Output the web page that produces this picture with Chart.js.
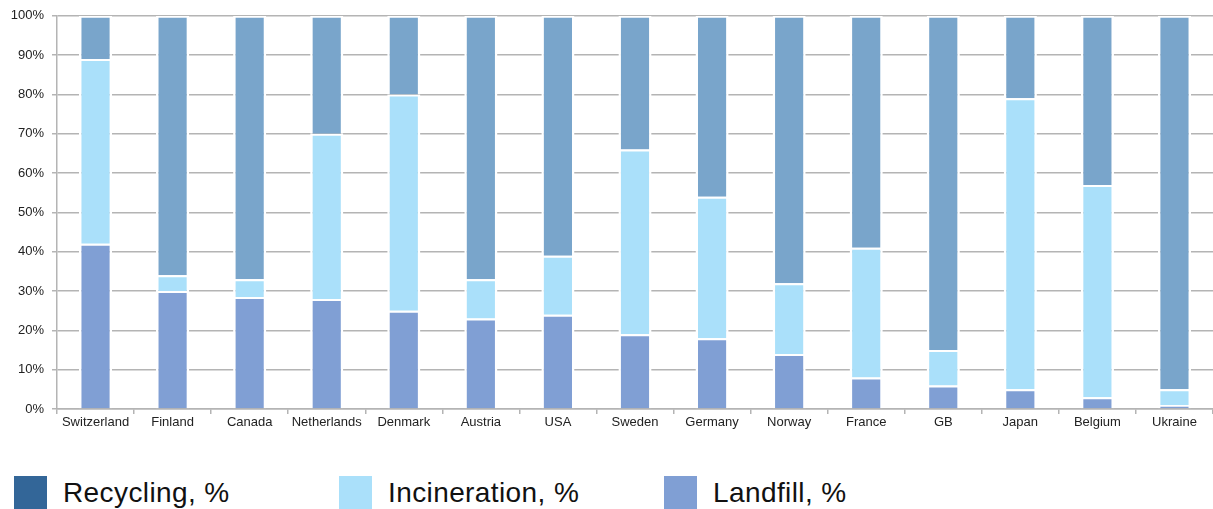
<!DOCTYPE html>
<html>
<head>
<meta charset="utf-8">
<script src="https://cdn.jsdelivr.net/npm/chart.js@4/dist/chart.umd.min.js"></script>
<style>
    body { margin: 0; background: #fff; font-family: "Liberation Sans", Arial, sans-serif; }
    .wrap { position: relative; width: 1213px; height: 509px; overflow: hidden; }
    #wasteChart { position: absolute; left: 0; top: 0; }
    .legend { position: absolute; top: 476px; left: 0; height: 33px; }
    .legend-item { position: absolute; top: 0; height: 33px; display: flex; align-items: center; white-space: nowrap; }
    .legend-item .box { width: 33px; height: 33px; margin-right: 16px; flex: none; }
    .legend-item span { font-size: 28px; letter-spacing: 0.4px; color: #111; line-height: 33px; white-space: nowrap; }
</style>
</head>
<body>
<div class="wrap">
    <canvas id="wasteChart" width="1213" height="430"></canvas>
    <div class="legend" id="legend"></div>
</div>

<script>
// ===============================
// Data
// ===============================

const countries = ["Switzerland", "Finland", "Canada", "Netherlands", "Denmark", "Austria", "USA",
    "Sweden", "Germany", "Norway", "France", "GB", "Japan", "Belgium", "Ukraine"];

const landfill     = [42, 30, 28.5, 28, 25, 23, 24, 19, 18, 14, 8, 6, 5, 3, 1];
const incineration = [47, 4, 4.5, 42, 55, 10, 15, 47, 36, 18, 33, 9, 74, 54, 4];
const recycling    = [11, 66, 67, 30, 20, 67, 61, 34, 46, 68, 59, 85, 21, 43, 95];

const yTicks = [0, 10, 20, 30, 40, 50, 60, 70, 80, 90, 100];

// ===============================
// Colors
// ===============================

const barColors = {
    recycling: "#79a5cb",
    incineration: "#aae0fa",
    landfill: "#809fd4"
};

const legendItems = [
    { label: "Recycling, %", color: "#336698", left: 14 },
    { label: "Incineration, %", color: "#aae0fa", left: 339 },
    { label: "Landfill, %", color: "#809fd4", left: 664 }
];

const gridColor = "#b4b4b4";
const segBorder = { top: 2, left: 2.5, right: 2.5, bottom: 0 };

function makeSet(label, data, color) {
    return {
        label: label,
        data: data,
        backgroundColor: color,
        borderColor: "#ffffff",
        borderWidth: segBorder,
        borderSkipped: false,
        barPercentage: 0.43,
        categoryPercentage: 1
    };
}

// ===============================
// Chart
// ===============================

const ctx = document.getElementById("wasteChart");

new Chart(ctx, {
    type: "bar",
    data: {
        labels: countries,
        datasets: [
            makeSet("Landfill, %", landfill, barColors.landfill),
            makeSet("Incineration, %", incineration, barColors.incineration),
            makeSet("Recycling, %", recycling, barColors.recycling)
        ]
    },
    options: {
        responsive: false,
        animation: false,
        events: [],
        devicePixelRatio: 1,
        layout: {
            padding: { top: 15, right: 0, bottom: 0, left: 0 }
        },
        plugins: {
            legend: { display: false },
            tooltip: { enabled: false }
        },
        scales: {
            x: {
                stacked: true,
                grid: {
                    offset: true,
                    drawOnChartArea: false,
                    color: gridColor,
                    lineWidth: 1.5,
                    tickLength: 5
                },
                border: { color: gridColor, width: 1.5 },
                ticks: {
                    color: "#222",
                    padding: 1,
                    maxRotation: 0,
                    autoSkip: false,
                    font: { family: "'Liberation Sans', Arial, sans-serif", size: 13 }
                },
                afterFit(scale) {
                    scale.height = 21;
                }
            },
            y: {
                stacked: true,
                min: 0,
                max: 100,
                afterBuildTicks(scale) {
                    scale.ticks = yTicks.map(v => ({ value: v }));
                },
                grid: {
                    color: gridColor,
                    lineWidth: 1.5,
                    tickLength: 5
                },
                border: { color: gridColor, width: 1.5 },
                ticks: {
                    color: "#222",
                    padding: 8,
                    font: { family: "'Liberation Sans', Arial, sans-serif", size: 13 },
                    callback: v => v + "%"
                },
                afterFit(scale) {
                    scale.width = 57;
                }
            }
        }
    }
});

// ===============================
// Legend
// ===============================

const legend = document.getElementById("legend");

legendItems.forEach(item => {
    legend.insertAdjacentHTML("beforeend", `
        <div class="legend-item" style="left:${item.left}px">
            <div class="box" style="background:${item.color}"></div>
            <span>${item.label}</span>
        </div>
    `);
});
</script>
</body>
</html>
